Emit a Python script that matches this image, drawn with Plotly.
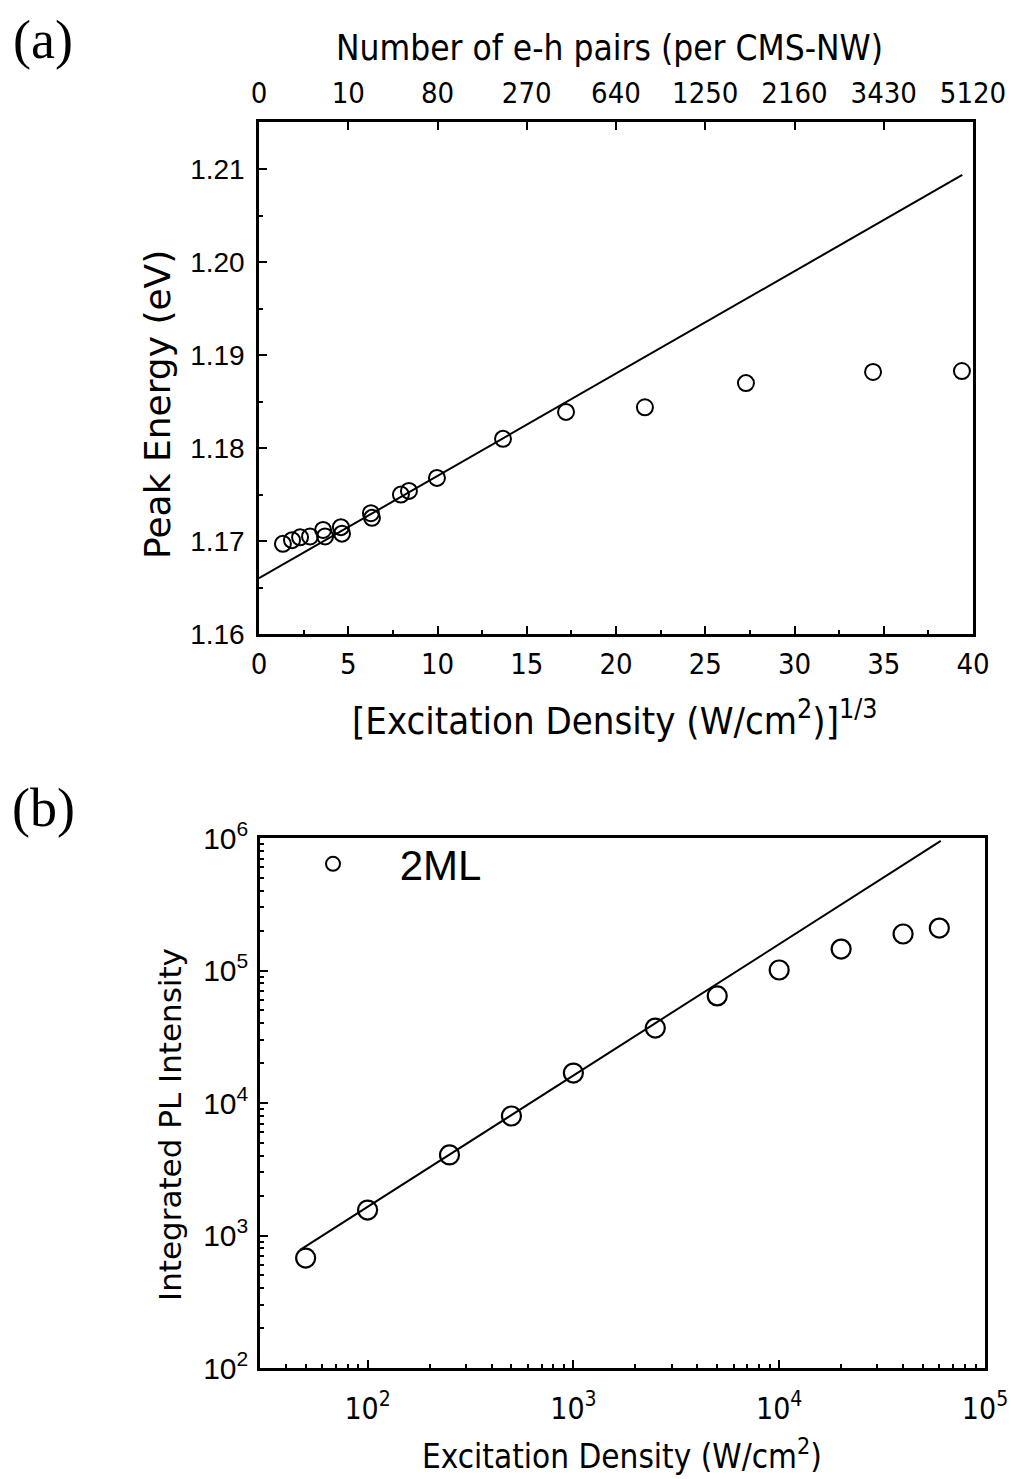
import plotly.graph_objects as go
import math

# ---------------- Panel (a) data ----------------
xa = [1.34, 1.85, 2.30, 2.86, 3.59, 3.70, 4.59, 4.65, 6.27, 6.33, 7.95, 8.40,
      9.97, 13.67, 17.20, 21.62, 27.28, 34.40, 39.38]
ya = [1.1697, 1.1701, 1.1704, 1.1705, 1.1712, 1.1705, 1.1715, 1.1708, 1.1730,
      1.1725, 1.1750, 1.1754, 1.1768, 1.1810, 1.1839, 1.1844, 1.1870, 1.1882, 1.1883]
fit_xa = [0.0, 39.4]
fit_ya = [1.1660, 1.2094]

top_tickvals = [0, 5, 10, 15, 20, 25, 30, 35, 40]
top_ticktext = ["0", "10", "80", "270", "640", "1250", "2160", "3430", "5120"]

# ---------------- Panel (b) data ----------------
xb = [50, 100, 250, 500, 1000, 2500, 5000, 10000, 20000, 40000, 60000]
yb = [676, 1556, 4055, 7980, 16830, 36800, 64300, 100900, 145000, 188500, 209000]
fit_xb = [47, 61000]
fit_yb = [778, 950000]

xb_tickvals = [1e2, 1e3, 1e4, 1e5]
xb_ticktext = ["10<sup>2</sup>", "10<sup>3</sup>", "10<sup>4</sup>", "10<sup>5</sup>"]
yb_tickvals = [1e2, 1e3, 1e4, 1e5, 1e6]
yb_ticktext = ["10<sup>2</sup>", "10<sup>3</sup>", "10<sup>4</sup>", "10<sup>5</sup>", "10<sup>6</sup>"]

W, H = 1011, 1479
ARIAL = "Liberation Sans, Arial, sans-serif"
WIDE = "DejaVu Sans, sans-serif"
NARROW = "Liberation Sans Narrow, DejaVu Sans Condensed, sans-serif"
SERIF = "Liberation Serif, Times New Roman, serif"

def minor_log(lo, hi):
    vals = []
    for e in range(lo, hi):
        for k in range(2, 10):
            vals.append(k * 10 ** e)
    return vals

fig = go.Figure()

# panel (a)
fig.add_trace(go.Scatter(x=fit_xa, y=fit_ya, mode="lines",
                         line=dict(color="black", width=2),
                         xaxis="x", yaxis="y", showlegend=False))
fig.add_trace(go.Scatter(x=xa, y=ya, mode="markers",
                         marker=dict(symbol="circle-open", size=16, color="black",
                                     line=dict(width=2, color="black")),
                         xaxis="x", yaxis="y", showlegend=False))
fig.add_trace(go.Scatter(x=[None], y=[None], xaxis="x3", yaxis="y",
                         showlegend=False, hoverinfo="skip"))

# panel (b)
fig.add_trace(go.Scatter(x=fit_xb, y=fit_yb, mode="lines",
                         line=dict(color="black", width=2),
                         xaxis="x2", yaxis="y2", showlegend=False))
fig.add_trace(go.Scatter(x=xb, y=yb, mode="markers",
                         marker=dict(symbol="circle-open", size=19, color="black",
                                     line=dict(width=2.2, color="black")),
                         xaxis="x2", yaxis="y2", showlegend=False))
fig.add_trace(go.Scatter(x=[None], y=[None], mode="markers",
                         name="&nbsp;&nbsp;&nbsp;&nbsp;2ML",
                         marker=dict(symbol="circle-open", size=14, color="black",
                                     line=dict(width=2, color="black")),
                         xaxis="x2", yaxis="y2", showlegend=True))

axis_common = dict(showgrid=False, zeroline=False, showline=True, linewidth=2.5,
                   linecolor="black", mirror=True, ticks="inside", ticklen=8,
                   tickwidth=2, tickcolor="black")

fig.update_layout(
    width=W, height=H,
    margin=dict(l=0, r=0, t=0, b=0, autoexpand=False),
    paper_bgcolor="white", plot_bgcolor="white",
    xaxis=dict(domain=[259 / W, 973 / W], anchor="y", range=[0, 40],
               tick0=0, dtick=5,
               minor=dict(dtick=2.5, ticks="inside", ticklen=4, tickwidth=2, tickcolor="black"),
               tickfont=dict(family=NARROW, size=29, color="black"),
               ticklabelstandoff=2,
               **axis_common),
    yaxis=dict(domain=[1 - 634 / H, 1 - 122 / H], anchor="x", range=[1.16, 1.2151],
               tick0=1.16, dtick=0.01, tickformat=".2f",
               minor=dict(dtick=0.005, ticks="inside", ticklen=4, tickwidth=2, tickcolor="black"),
               tickfont=dict(family=ARIAL, size=28, color="black"),
               ticklabelstandoff=6,
               **axis_common),
    xaxis3=dict(overlaying="x", side="top", anchor="y", range=[0, 40],
                tickmode="array", tickvals=top_tickvals, ticktext=top_ticktext,
                ticks="inside", ticklen=8, tickwidth=2, tickcolor="black",
                showline=False, showgrid=False, zeroline=False,
                tickfont=dict(family=NARROW, size=29, color="black"),
                ticklabelstandoff=12),
    xaxis2=dict(domain=[260 / W, 985 / W], anchor="y2", type="log",
                range=[math.log10(30), 5],
                tickmode="array", tickvals=xb_tickvals, ticktext=xb_ticktext,
                minor=dict(tickvals=minor_log(1, 5), ticks="inside", ticklen=4,
                           tickwidth=2, tickcolor="black"),
                tickfont=dict(family=NARROW, size=30, color="black"),
                ticklabelstandoff=12,
                **axis_common),
    yaxis2=dict(domain=[1 - 1368 / H, 1 - 838 / H], anchor="x2", type="log",
                range=[2, 6],
                tickmode="array", tickvals=yb_tickvals, ticktext=yb_ticktext,
                minor=dict(tickvals=minor_log(2, 6), ticks="inside", ticklen=4,
                           tickwidth=2, tickcolor="black"),
                tickfont=dict(family=ARIAL, size=30, color="black"),
                ticklabelstandoff=3,
                **axis_common),
    legend=dict(x=313 / W, y=1 - 830 / H, xanchor="left", yanchor="top",
                bgcolor="rgba(0,0,0,0)", borderwidth=0,
                font=dict(family=ARIAL, size=42, color="black")),
    showlegend=True,
)

annotations = [
    dict(text="(a)", x=43 / W, y=1 - 40 / H, font=dict(family=SERIF, size=54, color="black")),
    dict(text="(b)", x=43 / W, y=1 - 808 / H, font=dict(family=SERIF, size=54, color="black")),
    dict(text="Number of e-h pairs (per CMS-NW)", x=609 / W, y=1 - 48 / H,
         font=dict(family=NARROW, size=35, color="black")),
    dict(text="Peak Energy (eV)", x=157 / W, y=1 - 405 / H, textangle=-90,
         font=dict(family=WIDE, size=36, color="black")),
    dict(text="[Excitation Density (W/cm<sup>2</sup>)]<sup>1/3</sup>", x=615 / W, y=1 - 718 / H,
         font=dict(family=NARROW, size=38, color="black")),
    dict(text="Integrated PL Intensity", x=170 / W, y=1 - 1125 / H, textangle=-90,
         font=dict(family=WIDE, size=31, color="black")),
    dict(text="Excitation Density (W/cm<sup>2</sup>)", x=622 / W, y=1 - 1454 / H,
         font=dict(family=NARROW, size=33, color="black")),
]
for a in annotations:
    a.update(xref="paper", yref="paper", showarrow=False, xanchor="center", yanchor="middle")
fig.update_layout(annotations=annotations)

fig.write_html("out.html")
